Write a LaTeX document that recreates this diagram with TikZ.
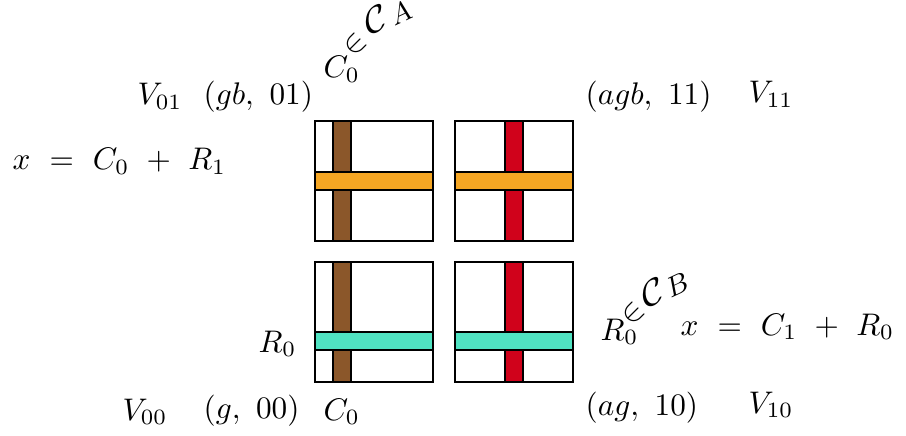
\documentclass[tikz,border=0pt]{standalone}
\usepackage{amsmath}
\definecolor{cbrown}{HTML}{8B572A}
\definecolor{corange}{HTML}{F5A623}
\definecolor{cred}{HTML}{D0021B}
\definecolor{ccyan}{HTML}{50E3C2}
\begin{document}
\begin{tikzpicture}[x=0.32pt,y=-0.32pt,
  lbl/.style={inner sep=0pt,anchor=base west},
  gl/.style={inner sep=0pt,anchor=center},
  sq/.style={draw=black,line width=0.65pt,fill=white},
  strip/.style={draw=black,line width=0.65pt}]
\useasboundingbox (0,0) rectangle (906,436);
% squares
\draw[sq] (315,121) rectangle (433,241);
\draw[sq] (455,121) rectangle (573,241);
\draw[sq] (315,262) rectangle (433,382);
\draw[sq] (455,262) rectangle (573,382);
% vertical strips
\draw[strip,fill=cbrown] (333,121) rectangle (351,241);
\draw[strip,fill=cred] (505,121) rectangle (523,241);
\draw[strip,fill=cbrown] (333,262) rectangle (351,382);
\draw[strip,fill=cred] (505,262) rectangle (523,382);
% horizontal strips
\draw[strip,fill=corange] (315,172) rectangle (433,190);
\draw[strip,fill=corange] (455,172) rectangle (573,190);
\draw[strip,fill=ccyan] (315,332) rectangle (433,350);
\draw[strip,fill=ccyan] (455,332) rectangle (573,350);
% labels
\node[lbl] (v01) at (137,105) {$V_{01}$};
\node[lbl] (gb) at (203,105) {$(gb,\ 01)$};
\node[lbl] (c0t) at (323,78) {$C_0$};
\node[gl,rotate=45] (inA) at (355,45) {$\in$};
\node[gl,rotate=15,font=\large] (calA) at (376,19) {$\mathcal{C}$};
\node[gl,rotate=25,font=\small] (subA) at (400,13) {$A$};
\node[lbl] (agb) at (585,105) {$(agb,\ 11)$};
\node[lbl] (v11) at (748,103) {$V_{11}$};
\node[lbl] (eq1) at (12,170) {$x\ =\ C_0\ +\ R_1$};
\node[lbl] (r0l) at (258,352) {$R_0$};
\node[lbl] (r0r) at (600,340) {$R_0$};
\node[gl,rotate=45] (inB) at (633,314) {$\in$};
\node[gl,rotate=15,font=\large] (calB) at (653,292) {$\mathcal{C}$};
\node[gl,rotate=25,font=\small] (subB) at (677,285) {$B$};
\node[lbl] (eq2) at (680,335) {$x\ =\ C_1\ +\ R_0$};
\node[lbl] (v00) at (122,420) {$V_{00}$};
\node[lbl] (g00) at (203,418) {$(g,\ 00)$};
\node[lbl] (c0b) at (323,420) {$C_0$};
\node[lbl] (ag) at (585,415) {$(ag,\ 10)$};
\node[lbl] (v10) at (748,413) {$V_{10}$};
\end{tikzpicture}
\end{document}
